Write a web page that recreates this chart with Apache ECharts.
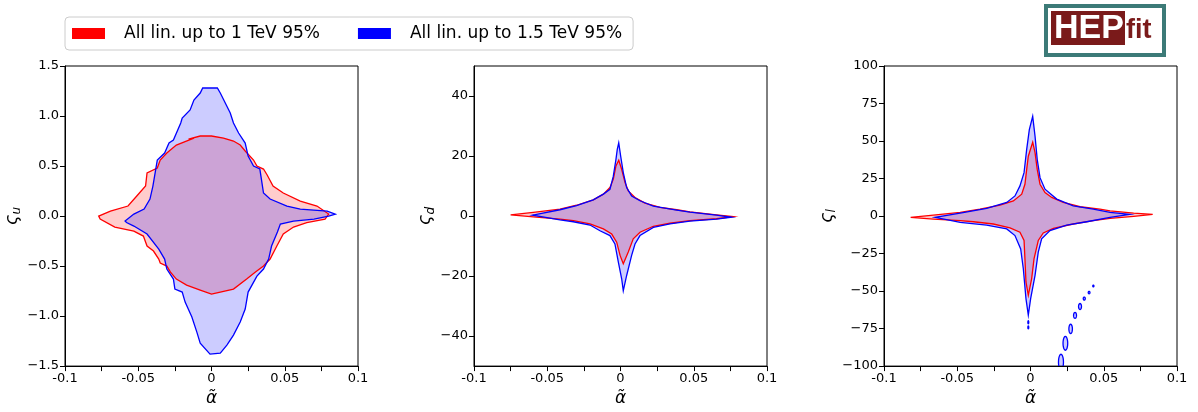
<!DOCTYPE html>
<html lang="en">
<head>
	<meta charset="UTF-8">
	<title>alpha tilde vs varsigma contours</title>
	<script src="https://cdn.jsdelivr.net/npm/echarts@6/dist/echarts.min.js"></script>
	<style>
		html, body { margin: 0; padding: 0; background: #fff; }
		#main { width: 1198px; height: 412px; }
	</style>
</head>
<body>
<div id="main"></div>
<script>
	var seriesNames = ['All lin. up to 1 TeV 95%', 'All lin. up to 1.5 TeV 95%'];

	// 95% contours, points as [alpha tilde, varsigma]
	var uRed = [
		[0.0, 0.80], [-0.0077, 0.80], [-0.0157, 0.77], [-0.012, 0.78], [-0.024, 0.71], [-0.0305, 0.63],
		[-0.035, 0.56], [-0.037, 0.48], [-0.044, 0.43], [-0.045, 0.30], [-0.051, 0.20], [-0.057, 0.10],
		[-0.069, 0.05], [-0.077, 0.0], [-0.076, -0.03], [-0.066, -0.11], [-0.053, -0.15], [-0.0465, -0.20],
		[-0.044, -0.30], [-0.0396, -0.35], [-0.036, -0.43], [-0.035, -0.47], [-0.0305, -0.50], [-0.028, -0.56],
		[-0.024, -0.63], [-0.017, -0.69], [-0.0077, -0.74], [0.0, -0.78], [0.006, -0.76], [0.015, -0.73],
		[0.024, -0.63], [0.03, -0.56], [0.0355, -0.50], [0.04, -0.43], [0.0446, -0.30], [0.049, -0.18],
		[0.056, -0.11], [0.065, -0.065], [0.0775, -0.03], [0.08, 0.02], [0.072, 0.10], [0.0606, 0.15],
		[0.049, 0.23], [0.042, 0.30], [0.038, 0.41], [0.0355, 0.47], [0.031, 0.50], [0.0287, 0.56],
		[0.023, 0.65], [0.0196, 0.71], [0.015, 0.75], [0.0082, 0.78]
	];
	var uBlue = [
		[-0.006, 1.28], [0.004, 1.28], [0.006, 1.23], [0.0128, 1.03], [0.015, 0.93], [0.0185, 0.83],
		[0.023, 0.73], [0.025, 0.60], [0.0287, 0.50], [0.033, 0.47], [0.0355, 0.23], [0.04, 0.17],
		[0.0515, 0.10], [0.0606, 0.07], [0.079, 0.05], [0.0845, 0.018], [0.08, 0.0], [0.07, -0.03],
		[0.056, -0.05], [0.047, -0.08], [0.045, -0.16], [0.041, -0.30], [0.039, -0.43], [0.0355, -0.53],
		[0.031, -0.60], [0.025, -0.76], [0.023, -0.93], [0.0196, -1.06], [0.015, -1.19], [0.0105, -1.29],
		[0.006, -1.37], [-0.001, -1.38], [-0.0077, -1.27], [-0.01, -1.16], [-0.0134, -1.01], [-0.018, -0.86],
		[-0.02, -0.76], [-0.025, -0.73], [-0.026, -0.63], [-0.0305, -0.53], [-0.032, -0.43], [-0.036, -0.33],
		[-0.044, -0.18], [-0.053, -0.10], [-0.058, -0.065], [-0.059, -0.05], [-0.053, 0.02], [-0.046, 0.07],
		[-0.042, 0.17], [-0.04, 0.30], [-0.037, 0.56], [-0.032, 0.63], [-0.029, 0.73], [-0.026, 0.76],
		[-0.021, 0.93], [-0.02, 0.98], [-0.0146, 1.06], [-0.012, 1.16], [-0.0077, 1.23]
	];
	var dRed = [
		[-0.0012, 18.6], [0.0008, 15.6], [0.0031, 11.2], [0.0053, 8.4], [0.0099, 6.2], [0.0167, 4.3],
		[0.027, 2.9], [0.0384, 2.1], [0.0474, 1.4], [0.0655, 0.4], [0.0768, -0.2], [0.0655, -0.9],
		[0.0474, -1.55], [0.0338, -2.4], [0.0224, -3.4], [0.0133, -5.4], [0.0087, -7.6], [0.0053, -12.0],
		[0.0019, -15.9], [-0.0003, -13.1], [-0.0026, -8.7], [-0.006, -6.0], [-0.0117, -4.3], [-0.0208, -2.6],
		[-0.0322, -1.55], [-0.0413, -1.0], [-0.0595, -0.3], [-0.075, 0.4], [-0.0595, 1.2], [-0.0413, 2.3],
		[-0.03, 3.6], [-0.0186, 5.4], [-0.0117, 7.3], [-0.0072, 9.5], [-0.0049, 12.3], [-0.0031, 16.7]
	];
	var dBlue = [
		[-0.0012, 24.4], [0.0001, 20.0], [0.0019, 14.5], [0.0042, 9.5], [0.0076, 6.7], [0.0133, 5.1],
		[0.0224, 3.3], [0.0384, 2.0], [0.0474, 1.3], [0.0655, 0.3], [0.0757, -0.4], [0.0655, -1.0],
		[0.0474, -1.7], [0.0338, -2.6], [0.0224, -3.8], [0.0133, -6.5], [0.0099, -9.3], [0.0076, -13.1],
		[0.0042, -19.8], [0.0019, -24.9], [0.0008, -20.9], [-0.0015, -15.3], [-0.0038, -9.3], [-0.0072, -6.5],
		[-0.014, -4.9], [-0.0208, -3.0], [-0.0322, -1.9], [-0.0413, -1.3], [-0.06, 0.3], [-0.0413, 2.1],
		[-0.03, 3.5], [-0.0186, 5.4], [-0.0117, 7.3], [-0.0072, 8.9], [-0.0049, 13.3], [-0.0031, 18.9],
		[-0.0022, 22.2]
	];
	var lRed = [
		[0.0015, 49.2], [0.0031, 42.2], [0.0046, 31.1], [0.0065, 21.2], [0.0099, 15.7], [0.0145, 12.4],
		[0.0224, 9.1], [0.0338, 6.2], [0.0474, 4.6], [0.0543, 3.5], [0.0704, 2.0], [0.0834, 1.1],
		[0.0704, -0.2], [0.0543, -1.5], [0.0429, -3.1], [0.0292, -5.3], [0.0156, -8.2], [0.0087, -11.3],
		[0.0053, -16.3], [0.0024, -28.5], [0.0008, -41.7], [-0.0015, -52.8], [-0.0031, -43.9], [-0.0038, -28.5],
		[-0.0044, -16.3], [-0.0072, -10.8], [-0.014, -7.9], [-0.0254, -5.3], [-0.039, -3.8], [-0.048, -3.1],
		[-0.0663, -2.0], [-0.0818, -0.9], [-0.0663, 0.6], [-0.048, 2.4], [-0.0345, 4.6], [-0.0208, 7.3],
		[-0.0117, 10.1], [-0.006, 14.6], [-0.0038, 21.2], [-0.0026, 31.1], [-0.0015, 39.9]
	];
	var lBlue = [
		[0.0015, 66.4], [0.0031, 53.2], [0.0046, 37.7], [0.0065, 25.6], [0.0099, 17.9], [0.0179, 11.3],
		[0.0292, 6.8], [0.0429, 4.6], [0.0543, 2.4], [0.0677, 1.1], [0.0543, -0.9], [0.0384, -3.8],
		[0.0247, -6.0], [0.0133, -9.7], [0.0076, -15.2], [0.0053, -24.0], [0.0031, -39.5], [0.0001, -55.0],
		[-0.0015, -66.0], [-0.0031, -55.0], [-0.0049, -35.1], [-0.0067, -21.9], [-0.0106, -13.0], [-0.0162, -8.6],
		[-0.0299, -6.0], [-0.048, -4.2], [-0.0651, -0.9], [-0.048, 2.0], [-0.0299, 5.1], [-0.0162, 9.1],
		[-0.0106, 13.4], [-0.0072, 20.1], [-0.0044, 28.9], [-0.0026, 44.4], [-0.0008, 57.6]
	];
	// small detached 1.5 TeV islands in the lepton panel: centre and half sizes
	var islandX = [-0.0015, -0.0015, 0.0208, 0.0238, 0.0274, 0.0304, 0.0338, 0.0367, 0.040, 0.0429];
	var islandY = [-70.8, -74.2, -97.4, -84.8, -75.2, -66.2, -60.3, -55.0, -51.0, -46.6];
	var islandRx = [0.0003, 0.0003, 0.0017, 0.0016, 0.0012, 0.001, 0.001, 0.0007, 0.0006, 0.0004];
	var islandRy = [1.0, 1.0, 5.3, 4.6, 3.1, 2.0, 2.0, 1.0, 0.8, 0.6];

	var xTicks = [-0.1, -0.075, -0.05, -0.025, 0, 0.025, 0.05, 0.075, 0.1];
	var xLabelValues = [-0.1, -0.05, 0, 0.05, 0.1];
	var xLabels = ['-0.1', '-0.05', '0', '0.05', '0.1'];
	var uTicks = [-1.5, -1.0, -0.5, 0.0, 0.5, 1.0, 1.5];
	var uLabels = ['\u22121.5', '\u22121.0', '\u22120.5', '0.0', '0.5', '1.0', '1.5'];
	var dTicks = [-40, -20, 0, 20, 40];
	var dLabels = ['\u221240', '\u221220', '0', '20', '40'];
	var lTicks = [-100, -75, -50, -25, 0, 25, 50, 75, 100];
	var lLabels = ['\u2212100', '\u221275', '\u221250', '\u221225', '0', '25', '50', '75', '100'];

	var FONT = 'DejaVu Sans';
	var RED = '#ff0000';
	var BLUE = '#0000ff';

	function labelFor(values, labels) {
		return function (v) {
			for (var i = 0; i < values.length; i++) {
				if (Math.abs(values[i] - v) < 1e-9) return labels[i];
			}
			return '';
		};
	}

	var myChart = echarts.init(document.getElementById('main'), null, {renderer: 'canvas'});

	var gridLefts = [65, 474, 884];
	var grids = gridLefts.map(function (l) {
		return {left: l, top: 66, width: 293, height: 302, show: true, borderColor: '#000', borderWidth: 1, backgroundColor: 'transparent'};
	});

	var xAxes = gridLefts.map(function (l, i) {
		return {
			type: 'value', gridIndex: i, min: -0.1, max: 0.1,
			name: '\u03b1\u0303', nameLocation: 'middle', nameGap: 20,
			nameTextStyle: {fontFamily: FONT, fontSize: 17, fontStyle: 'italic', color: '#000'},
			axisLine: {onZero: false, lineStyle: {color: '#000', width: 1}},
			axisTick: {customValues: xTicks, inside: false, length: 5, lineStyle: {color: '#000'}},
			axisLabel: {customValues: xLabelValues, formatter: labelFor(xLabelValues, xLabels), fontFamily: FONT, fontSize: 13, color: '#000', margin: 6},
			splitLine: {show: false}
		};
	});

	function yAxis(i, min, max, ticks, labels, sub, gap) {
		return {
			type: 'value', gridIndex: i, min: min, max: max,
			name: '{a|\u03c2}{s|' + sub + '}', nameLocation: 'middle', nameGap: gap, nameRotate: 90,
			nameTextStyle: {
				color: '#000',
				rich: {
					a: {fontFamily: FONT, fontSize: 18, fontStyle: 'italic', color: '#000'},
					s: {fontFamily: FONT, fontSize: 12, fontStyle: 'italic', color: '#000', padding: [10, 0, 0, 0]}
				}
			},
			axisLine: {onZero: false, lineStyle: {color: '#000', width: 1}},
			axisTick: {customValues: ticks, inside: false, length: 5, lineStyle: {color: '#000'}},
			axisLabel: {customValues: ticks, formatter: labelFor(ticks, labels), fontFamily: FONT, fontSize: 13, color: '#000', margin: 6},
			splitLine: {show: false}
		};
	}

	var yAxes = [
		yAxis(0, -1.5, 1.5, uTicks, uLabels, 'u', 42),
		yAxis(1, -50, 50, dTicks, dLabels, 'd', 36),
		yAxis(2, -100, 100, lTicks, lLabels, 'l', 46)
	];

	function polySeries(name, pts, idx, color, filled, z) {
		return {
			name: name, type: 'custom', xAxisIndex: idx, yAxisIndex: idx,
			clip: true, silent: true, z: z,
			itemStyle: {color: color},
			data: [[0, 0]],
			renderItem: function (params, api) {
				return {
					type: 'polygon',
					shape: {points: pts.map(function (p) { return api.coord(p); })},
					style: filled
						? {fill: color, opacity: 0.2, stroke: null}
						: {fill: null, stroke: color, lineWidth: 1.3}
				};
			}
		};
	}

	function islandSeries() {
		var data = islandX.map(function (x, i) { return [x, islandY[i], islandRx[i], islandRy[i]]; });
		return {
			name: seriesNames[1], type: 'custom', xAxisIndex: 2, yAxisIndex: 2,
			clip: true, silent: true, z: 5,
			itemStyle: {color: BLUE},
			data: data,
			renderItem: function (params, api) {
				var cx = api.value(0), cy = api.value(1), rx = api.value(2), ry = api.value(3);
				var pts = [];
				for (var k = 0; k < 24; k++) {
					var t = k / 24 * Math.PI * 2;
					pts.push(api.coord([cx + rx * Math.cos(t), cy + ry * Math.sin(t)]));
				}
				return {
					type: 'polygon',
					shape: {points: pts},
					style: {fill: 'rgba(0,0,255,0.2)', stroke: BLUE, lineWidth: 1.3}
				};
			}
		};
	}

	var contours = [[uRed, uBlue], [dRed, dBlue], [lRed, lBlue]];
	var series = [];
	contours.forEach(function (c, i) {
		series.push(polySeries(seriesNames[0], c[0], i, RED, true, 1));
		series.push(polySeries(seriesNames[1], c[1], i, BLUE, true, 2));
		series.push(polySeries(seriesNames[0], c[0], i, RED, false, 3));
		series.push(polySeries(seriesNames[1], c[1], i, BLUE, false, 4));
	});
	series.push(islandSeries());

	var option = {
		animation: false,
		backgroundColor: '#fff',
		grid: grids,
		xAxis: xAxes,
		yAxis: yAxes,
		legend: {
			left: 65, top: 17,
			data: [
				{name: seriesNames[0], itemStyle: {color: RED, opacity: 1}},
				{name: seriesNames[1], itemStyle: {color: BLUE, opacity: 1}}
			],
			icon: 'rect', itemWidth: 33, itemHeight: 11, itemGap: 38,
			padding: [8, 11, 8, 7],
			borderColor: '#cccccc', borderWidth: 1, borderRadius: 4,
			selectedMode: false,
			textStyle: {fontFamily: FONT, fontSize: 17, color: '#000', padding: [0, 0, 0, 14]}
		},
		graphic: [
			{type: 'rect', left: 1044, top: 4, shape: {width: 118, height: 49}, style: {fill: '#fff', stroke: '#3c7a77', lineWidth: 4}},
			{type: 'rect', left: 1051, top: 11, shape: {width: 74, height: 34}, style: {fill: '#7a1a1a'}},
			{type: 'text', left: 1054, top: 12, style: {text: 'HEP', fill: '#fff', font: 'bold 34px "Liberation Sans"'}},
			{type: 'text', left: 1126, top: 17, style: {text: 'fit', fill: '#7a1a1a', font: 'bold 27px "Liberation Sans"'}}
		],
		series: series
	};
	myChart.setOption(option);
</script>
</body>
</html>
